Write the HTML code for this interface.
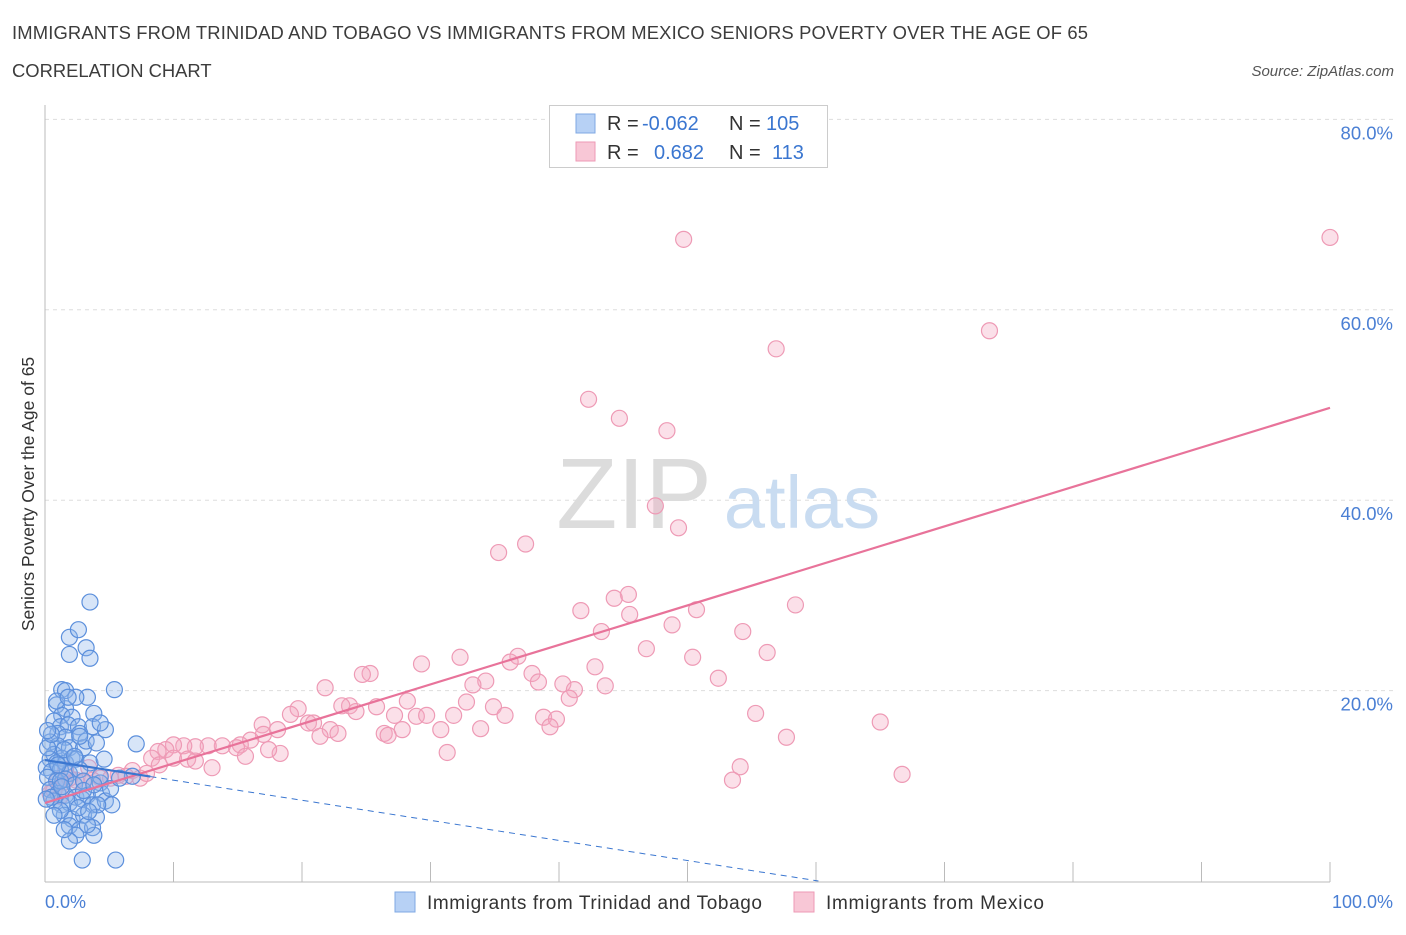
<!DOCTYPE html>
<html><head><meta charset="utf-8"><style>
body{margin:0;background:#fff;font-family:"Liberation Sans",sans-serif;}
svg text{font-family:"Liberation Sans",sans-serif;}
</style></head><body>
<svg width="1406" height="930" xmlns="http://www.w3.org/2000/svg">
<text x="12" y="39" font-size="18.4" fill="#3c3c3c" textLength="1076">IMMIGRANTS FROM TRINIDAD AND TOBAGO VS IMMIGRANTS FROM MEXICO SENIORS POVERTY OVER THE AGE OF 65</text>
<text x="12" y="77" font-size="18.4" fill="#3c3c3c">CORRELATION CHART</text>
<text x="1394" y="76" font-size="15" fill="#555" font-style="italic" text-anchor="end">Source: ZipAtlas.com</text>
<g id="grid"></g>
<g>
<text x="634" y="528" font-size="100" font-family="Liberation Serif" fill="#dcdcdc" text-anchor="middle">ZIP</text>
<text x="802" y="528" font-size="74" fill="#c9dcf1" text-anchor="middle">atlas</text>
</g>
<line x1="45" y1="105" x2="45" y2="882" stroke="#bbb"/>
<line x1="45" y1="882" x2="1330" y2="882" stroke="#bbb"/>
<g id="xticks"></g>
<g id="ylabels"></g>
<text x="45" y="908" font-size="18" fill="#4a7fd4">0.0%</text>
<text x="1393" y="908" font-size="18" fill="#4a7fd4" text-anchor="end">100.0%</text>
<text transform="translate(34,494) rotate(-90)" font-size="17.5" fill="#333" text-anchor="middle">Seniors Poverty Over the Age of 65</text>
<g id="pts"></g>
<g id="lines"></g>
<g>
<rect x="549.5" y="105.5" width="278" height="62" fill="#fff" stroke="#ccc"/>
<rect x="576" y="114" width="19" height="19" fill="#b7d1f5" stroke="#7fa8e3"/>
<rect x="576" y="142" width="19" height="19" fill="#f8c7d6" stroke="#ee9ab5"/>
<text x="607" y="130" font-size="20" fill="#333">R = <tspan x="642" fill="#3a76d0">-0.062</tspan><tspan x="729">N = </tspan><tspan x="766" fill="#3a76d0">105</tspan></text>
<text x="607" y="159" font-size="20" fill="#333">R = <tspan x="654" fill="#3a76d0">0.682</tspan><tspan x="729">N = </tspan><tspan x="772" fill="#3a76d0">113</tspan></text>
</g>
<g>
<rect x="395" y="892" width="20" height="20" fill="#b7d1f5" stroke="#7fa8e3"/>
<text x="427" y="909" font-size="19" fill="#333" textLength="335">Immigrants from Trinidad and Tobago</text>
<rect x="794" y="892" width="20" height="20" fill="#f8c7d6" stroke="#ee9ab5"/>
<text x="826" y="909" font-size="19" fill="#333" textLength="218">Immigrants from Mexico</text>
</g>
</svg>
<script>
const pinkX=[49.7,100,73.5,56.9,42.3,44.7,48.4,47.5,49.3,35.3,37.4,45.4,44.3,41.7,45.5,50.7,58.4,43.3,48.8,54.3,46.8,36.8,36.2,32.3,29.3,25.3,24.7,56.2,50.4,42.8,37.9,34.3,40.3,43.6,52.4,41.2,38.4,33.3,21.8,40.8,32.8,28.2,23.7,23.1,34.9,24.2,25.8,35.8,27.2,28.9,29.7,31.8,38.8,39.8,39.3,55.3,65,27.8,33.9,30.8,19.7,19.1,20.5,16.9,17,18.1,20.9,22.2,22.8,21.4,26.4,26.7,57.7,31.3,16,15.2,14.9,13.8,12.7,11.7,10.8,10,9.4,8.8,8.3,8.9,10,11.1,11.7,13,15.6,18.3,17.4,54.1,53.5,66.7,6.8,6.3,5.7,5.1,4.3,3.7,3,2.4,1.9,1.5,1,0.7,1.2,7.4,7.9,0.4,1.6,3.4];
const pinkY=[67.4,67.6,57.8,55.9,50.6,48.6,47.3,39.4,37.1,34.5,35.4,30.1,29.7,28.4,28,28.5,29,26.2,26.9,26.2,24.4,23.6,23,23.5,22.8,21.8,21.7,24,23.5,22.5,21.8,21,20.7,20.5,21.3,20.1,20.9,20.6,20.3,19.2,18.8,18.9,18.4,18.4,18.3,17.8,18.3,17.4,17.4,17.3,17.4,17.4,17.2,17,16.2,17.6,16.7,15.9,16,15.9,18.1,17.5,16.6,16.4,15.4,15.9,16.6,15.9,15.5,15.2,15.5,15.3,15.1,13.5,14.8,14.3,14,14.2,14.2,14.1,14.2,14.3,13.8,13.6,12.9,12.2,12.9,12.8,12.6,11.9,13.1,13.4,13.8,12,10.6,11.2,11.6,11,11.1,10.8,10.8,10.6,10.4,10.6,10.8,10.4,10.6,9.5,8.9,10.8,11.3,9.2,11.7,11.9];
const blueX=[3.5,1.9,2.6,1.9,3.2,3.5,1.3,1.6,3.3,5.4,0.9,1.6,3.8,1.3,2.1,0.7,1.2,1.8,2.6,3.7,4.7,1,1.6,2.7,0.4,1,1.9,3,7.1,0.7,1.3,2.1,0.4,0.9,1.6,2.4,3.5,0.1,0.5,1.2,1.9,2.7,0.2,0.9,1.6,2.3,3,4.3,0.4,1,1.6,2.4,3.3,4.4,0.7,1.3,1.9,2.9,3.7,4.7,5.2,1.5,2.1,3,4,1.9,2.7,3.7,2.4,3.8,1.9,2.9,5.5,0.9,1.2,0.2,0.5,4.6,3.2,4,4.3,6.8,1.2,0.1,3.3,2.6,1,1.5,2.3,3.0,0.5,2.4,1.8,3.8,5.1,1.3,4.1,1.5,3.4,0.7,5.8,2.7,4.3,0.2];
const blueY=[29.3,25.6,26.4,23.8,24.5,23.4,20.1,20,19.3,20.1,18.5,18.1,17.6,17.4,17.2,16.8,16.2,16.4,16.2,16.2,15.9,15.5,15.1,15.5,14.6,14.2,14,14,14.4,13.3,12.9,12.9,12.8,12.4,12.4,12.8,12.4,11.9,11.5,11.7,11.3,11.7,10.9,10.5,10.7,10.1,10.5,10.3,9.6,9.2,9,8.8,9,9.2,8.4,8,8.2,8.6,8,8.4,8,6.9,6.5,6.9,6.7,5.8,5.4,5.6,4.8,4.8,4.2,2.2,2.2,18.9,7.4,14,8.8,12.8,14.7,14.5,11,11,10.5,8.6,5.9,7.7,12.2,13.8,13.1,9.5,15.4,19.3,19.3,10.1,9.7,9.9,8,5.4,7.3,6.9,10.8,15.2,16.6,15.8];
const yTicks=[20,40,60,80];
const pinkFit=[8.2,49.7]; // y at x=0 and x=100
const blueFit=[12.7,-8.4];
const ns="http://www.w3.org/2000/svg";
const X=v=>45+v*12.85, Y=v=>881-v*9.52;
const grid=document.getElementById('grid'),yl=document.getElementById('ylabels'),xt=document.getElementById('xticks');
yTicks.forEach(t=>{
 const l=document.createElementNS(ns,'line');
 l.setAttribute('x1',45);l.setAttribute('x2',1395);l.setAttribute('y1',Y(t));l.setAttribute('y2',Y(t));
 l.setAttribute('stroke','#ddd');l.setAttribute('stroke-dasharray','4,4');
 
 
 grid.appendChild(l);
 const tx=document.createElementNS(ns,'text');
 tx.setAttribute('x',1393);tx.setAttribute('y',Y(t)+20);tx.setAttribute('text-anchor','end');
 tx.setAttribute('font-size','18.5');tx.setAttribute('fill','#4a7fd4');tx.textContent=t.toFixed(1)+'%';
 
 
 yl.appendChild(tx);
});
for(let i=1;i<=10;i++){
 const l=document.createElementNS(ns,'line');
 l.setAttribute('x1',X(i*10));l.setAttribute('x2',X(i*10));l.setAttribute('y1',862);l.setAttribute('y2',882);
 l.setAttribute('stroke','#bbb');
 
 
 xt.appendChild(l);
}
const pts=document.getElementById('pts');
function dots(xs,ys,fill,stroke,name){
 xs.forEach((x,i)=>{
  const c=document.createElementNS(ns,'circle');
  c.setAttribute('cx',X(x));c.setAttribute('cy',Y(ys[i]));c.setAttribute('r',8);
  c.setAttribute('fill',fill);c.setAttribute('stroke',stroke);c.setAttribute('stroke-width','1.2');
  
  
  pts.appendChild(c);
 });
}
dots(pinkX,pinkY,'rgba(244,166,192,0.35)','#ee9ab5','mexico-point');
dots(blueX,blueY,'rgba(140,180,235,0.35)','#5b8fdc','trinidad-point');
const lines=document.getElementById('lines');
function ln(x1,y1,x2,y2,col,w,dash,name){
 const l=document.createElementNS(ns,'line');
 l.setAttribute('x1',X(x1));l.setAttribute('y1',Y(y1));l.setAttribute('x2',X(x2));l.setAttribute('y2',Y(y2));
 l.setAttribute('stroke',col);l.setAttribute('stroke-width',w);if(dash)l.setAttribute('stroke-dasharray',dash);
 
 
 lines.appendChild(l);
}
const fy=(f,x)=>f[0]+(f[1]-f[0])*x/100;
ln(0,fy(pinkFit,0),100,fy(pinkFit,100),'#e8739a',2.2,null,'mexico-trend-line');
ln(0,fy(blueFit,0),8.2,fy(blueFit,8.2),'#3a76d0',2.2,null,'trinidad-trend-line');
const xEnd=(0-blueFit[0])/(blueFit[1]-blueFit[0])*100;
ln(8.2,fy(blueFit,8.2),xEnd,0,'#3a76d0',1,'6,5','trinidad-trend-extension');
</script>
</body></html>
